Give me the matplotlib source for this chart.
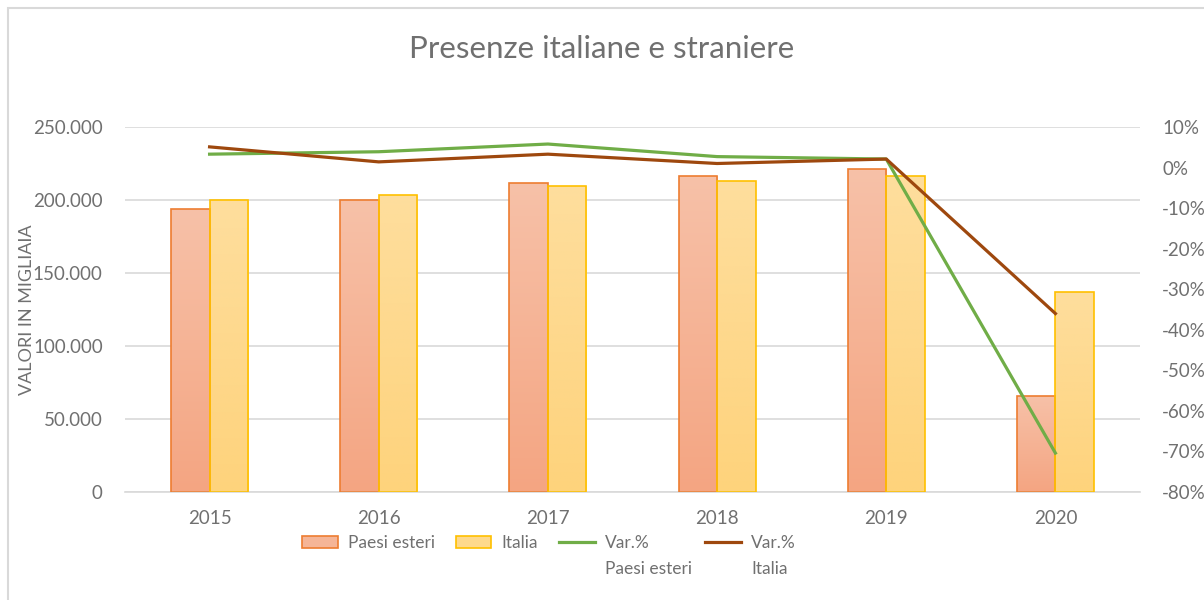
import numpy as np
import matplotlib
matplotlib.use("Agg")
import matplotlib.pyplot as plt
from matplotlib.ticker import FuncFormatter, MultipleLocator
from matplotlib.patches import Rectangle, Patch
from matplotlib.lines import Line2D

plt.rcParams['font.family'] = ['Lato', 'DejaVu Sans']

anni = ['2015', '2016', '2017', '2018', '2019', '2020']
paesi_esteri = [193600, 200000, 211800, 216400, 221200, 66000]
italia = [200000, 203200, 209800, 213200, 216400, 137000]
var_esteri = [0.033, 0.039, 0.058, 0.027, 0.021, -0.704]
var_italia = [0.051, 0.014, 0.033, 0.010, 0.021, -0.360]

grigio = '#707070'
W, H = 1204, 600
fig = plt.figure(figsize=(W / 100, H / 100), dpi=100)
ax = fig.add_axes([125 / W, 1 - 492 / H, 1015 / W, 365 / H])
ax2 = ax.twinx()

x = np.arange(len(anni))
w = 0.228
b1 = ax.bar(x - w / 2, paesi_esteri, w, facecolor='none', edgecolor='#ED7D31', linewidth=1.2, zorder=3)
b2 = ax.bar(x + w / 2, italia, w, facecolor='none', edgecolor='#FFC000', linewidth=1.2, zorder=3)


def sfumatura(rects, top, bottom):
    t = np.linspace(0, 1, 100)[:, None, None]
    img = (1 - t) * np.array(top) / 255 + t * np.array(bottom) / 255
    for r in rects:
        x0, h = r.get_x(), r.get_height()
        im = ax.imshow(img, extent=(x0, x0 + r.get_width(), 0, h), aspect='auto',
                       origin='upper', zorder=2, interpolation='bilinear')
        im.set_clip_path(r)


sfumatura(b1, (247, 193, 168), (244, 165, 130))
sfumatura(b2, (254, 222, 157), (254, 211, 124))

ax.set_xlim(-0.5, len(anni) - 0.5)
ax.set_ylim(0, 250000)
ax.yaxis.set_major_locator(MultipleLocator(50000))
ax.yaxis.set_major_formatter(FuncFormatter(lambda v, p: f"{int(v):,}".replace(",", ".")))
ax.set_xticks(x)
ax.set_xticklabels(anni)
ax.grid(axis='y', color='#d9d9d9', linewidth=1.2)
ax.set_axisbelow(True)
for s in ['top', 'left', 'right']:
    ax.spines[s].set_visible(False)
ax.spines['bottom'].set_color('#d9d9d9')
ax.spines['bottom'].set_linewidth(1.2)
ax.tick_params(axis='both', length=0, labelsize=13.5, labelcolor=grigio)
ax.tick_params(axis='x', pad=13)
ax.tick_params(axis='y', pad=16)
ax.set_ylabel('VALORI IN MIGLIAIA', fontsize=13, color=grigio)
ax.yaxis.set_label_coords(-0.089, 0.5)

ax2.plot(x, var_esteri, color='#70AD47', linewidth=2.3, zorder=4)
ax2.plot(x, var_italia, color='#9E480E', linewidth=2.3, zorder=4)
ax2.set_ylim(-0.8, 0.1)
ax2.yaxis.set_major_locator(MultipleLocator(0.1))
ax2.yaxis.set_major_formatter(FuncFormatter(lambda v, p: f"{int(round(v * 100))}%"))
for s in ax2.spines.values():
    s.set_visible(False)
ax2.tick_params(axis='y', length=0, labelsize=13.5, labelcolor=grigio, pad=16)

fig.text(0.5, 1 - 49 / H, 'Presenze italiane e straniere', ha='center', va='center',
         fontsize=22.5, color=grigio)

# legenda
kw = dict(frameon=False, fontsize=12.5, handlelength=2.05, handleheight=0.75,
          handletextpad=0.6, columnspacing=1.2, borderpad=0, borderaxespad=0,
          labelcolor=grigio, loc='center left')
h_pe = Patch(facecolor='#F5B597', edgecolor='#ED7D31', linewidth=1.2)
h_it = Patch(facecolor='#FED98C', edgecolor='#FFC000', linewidth=1.2)
h_ve = Line2D([], [], color='#70AD47', linewidth=2.3)
h_vi = Line2D([], [], color='#9E480E', linewidth=2.3)
leg1 = fig.legend([h_pe, h_it, h_ve], ['Paesi esteri', 'Italia', 'Var.%'], ncol=3,
                  bbox_to_anchor=(302 / W, 1 - 543 / H), **kw)
leg2 = fig.legend([h_vi], ['Var.%'], bbox_to_anchor=(705 / W, 1 - 543 / H), **kw)

fig.canvas.draw()
for leg, sotto in [(leg1, 'Paesi esteri'), (leg2, 'Italia')]:
    bb = leg.get_texts()[-1].get_window_extent()
    fig.text(bb.x0 / W, (bb.y0 + bb.y1) / 2 / H - 26 / H, sotto, ha='left', va='center',
             fontsize=12.5, color=grigio)

fig.add_artist(Rectangle((8 / W, -0.1), 1.2, 1.1 - 8 / H, transform=fig.transFigure,
                         fill=False, edgecolor='#d9d9d9', linewidth=1.5))

fig.savefig('out.png', dpi=100)
